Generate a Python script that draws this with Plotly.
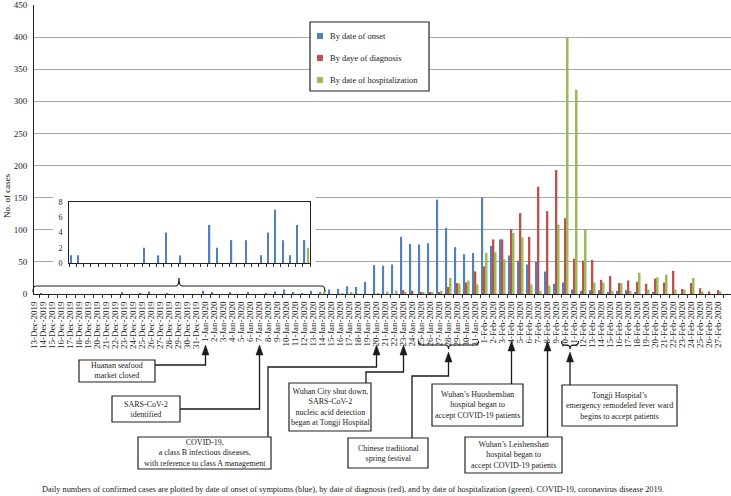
import plotly.graph_objects as go
import pandas as pd

# ---------------- data ----------------
dates = pd.date_range("2019-12-13", "2020-02-28")
date_labels = [f"{d.day}-{d.strftime('%b')}-{d.year}" for d in dates]

onset = [1, 1, 0, 0, 0, 0, 0, 0, 0, 0,
         2, 0, 1, 4, 0, 1, 0, 0, 0, 5,
         2, 0, 3, 0, 3, 0, 1, 4, 7, 3,
         1, 5, 3, 7, 8, 12, 11, 19, 45, 44,
         46, 89, 78, 77, 79, 147, 103, 73, 62, 64,
         150, 75, 85, 60, 52, 46, 50, 35, 16, 18,
         7, 5, 6, 6, 3, 5, 6, 2, 0, 2,
         0, 0, 0, 0, 0, 0, 0, 0]
diagnosis = [0] * 41 + [6, 5, 2, 2, 3, 11, 17, 18, 35,
                        43, 85, 85, 101, 126, 89, 167, 129, 193, 118,
                        55, 52, 53, 22, 28, 17, 21, 19, 16, 24,
                        18, 36, 8, 17, 9, 4, 6, 0]
hospitalization = [0] * 32 + [2, 0, 1, 2, 0, 0, 1, 4,
                              5, 2, 0, 2, 2, 5, 25, 16, 21, 15,
                              64, 65, 54, 95, 88, 15, 5, 13, 108, 400,
                              318, 101, 18, 18, 5, 17, 5, 33, 7, 26,
                              30, 7, 7, 25, 4, 0, 4, 0]
series_names = ["By date of onset", "By daye of diagnosis", "By date of hospitalization"]
colors = ["#4F81BD", "#C0504D", "#9BBB59"]
inset_n = 33  # 13-Dec-2019 .. 14-Jan-2020
y_ticks = list(range(0, 451, 50))
inset_ticks = [0, 2, 4, 6, 8]

FONT = "Liberation Serif, Times New Roman, serif"

# ---------------- geometry helpers (pixel -> paper) ----------------
W, H = 731, 496
L, T = 34, 5
PW, PH = 697, 289
BOT = T + PH  # 294


def px(x):
    return (x - L) / PW


def py(y):
    return (BOT - y) / PH


step = 9.0
xr0 = -(34.5 - L) / step
xr1 = xr0 + PW / step

fig = go.Figure()
all_series = [onset, diagnosis, hospitalization]
for name, vals, col in zip(series_names, all_series, colors):
    fig.add_bar(x=list(range(len(vals))), y=vals, name=name, marker_color=col,
                marker_line_width=0, showlegend=False, xaxis="x", yaxis="y")
for name, vals, col in zip(series_names, all_series, colors):
    fig.add_bar(x=list(range(inset_n)), y=vals[:inset_n], name=name, marker_color=col,
                marker_line_width=0, showlegend=False, xaxis="x2", yaxis="y2")

shapes = []
annotations = []

# white cover behind the inset (hides main gridlines)
shapes.append(dict(type="rect", xref="x", yref="y", layer="between",
                   x0=(53 - 34.5) / step, x1=(316 - 34.5) / step,
                   y0=(BOT - 277) * 450 / PH, y1=(BOT - 188) * 450 / PH,
                   fillcolor="white", line_width=0))

LINEC = "#1a1a1a"


def path_from(points, close=False):
    s = "M " + " L ".join(f"{px(x):.5f},{py(y):.5f}" for x, y in points)
    return s + (" Z" if close else "")


def hbrace(x0, x1, y_end, y_mid, y_tip, r=3):
    xm = (x0 + x1) / 2
    pts = [
        f"M {px(x0):.5f},{py(y_end):.5f}",
        f"Q {px(x0):.5f},{py(y_mid):.5f} {px(x0 + r):.5f},{py(y_mid):.5f}",
        f"L {px(xm - r):.5f},{py(y_mid):.5f}",
        f"Q {px(xm):.5f},{py(y_mid):.5f} {px(xm):.5f},{py(y_tip):.5f}",
        f"Q {px(xm):.5f},{py(y_mid):.5f} {px(xm + r):.5f},{py(y_mid):.5f}",
        f"L {px(x1 - r):.5f},{py(y_mid):.5f}",
        f"Q {px(x1):.5f},{py(y_mid):.5f} {px(x1):.5f},{py(y_end):.5f}",
    ]
    return dict(type="path", xref="paper", yref="paper", path=" ".join(pts),
                line=dict(color=LINEC, width=1.2))


def arrow(points, tip_y):
    x = points[-1][0]
    shapes.append(dict(type="path", xref="paper", yref="paper",
                       path=path_from(points + [(x, tip_y + 8)]),
                       line=dict(color=LINEC, width=1.3)))
    shapes.append(dict(type="path", xref="paper", yref="paper",
                       path=path_from([(x, tip_y), (x - 3.5, tip_y + 10), (x + 3.5, tip_y + 10)], close=True),
                       fillcolor=LINEC, line=dict(color=LINEC, width=0.5)))


def box(x0, y0, x1, y1, text):
    shapes.append(dict(type="rect", xref="paper", yref="paper",
                       x0=px(x0), x1=px(x1), y0=py(y1), y1=py(y0),
                       line=dict(color="#222222", width=1.2), fillcolor="white"))
    annotations.append(dict(xref="paper", yref="paper", x=px((x0 + x1) / 2), y=py((y0 + y1) / 2),
                            text=text, showarrow=False, xanchor="center", yanchor="middle",
                            align="center", font=dict(family=FONT, size=8, color="#222222")))


def cx(i):
    return 34.5 + step * i


# brace above inset range in main chart
shapes.append(hbrace(33, 325, 292, 286, 278))

# event boxes & arrows
box(79, 360, 155, 382, "Huanan seafood<br>market closed")
arrow([(155, 365), (cx(19), 365)], 345)

box(112, 396, 180, 422, "SARS-CoV-2<br>identified")
arrow([(180, 409), (cx(25), 409)], 345)

box(138, 437, 271, 469, "COVID-19,<br>a class B infectious diseases,<br>with reference to class A management")
arrow([(268, 437), (268, 367), (cx(38), 367)], 345)

box(289, 383, 371, 431, "Wuhan City shut down,<br>SARS-CoV-2<br>nucleic acid detection<br>began at Tongji Hospital")
arrow([(366, 383), (366, 372), (cx(41), 372)], 345)

shapes.append(hbrace(cx(43) - 3, cx(49) + 3, 341, 345, 349))
box(348, 438, 428, 468, "Chinese traditional<br>spring festival")
arrow([(412, 438), (412, 376), ((cx(43) + cx(49)) / 2, 376)], 352)

box(432, 384, 523, 426, "Wuhan\u2019s Huoshenshan<br>hospital began to<br>accept COVID-19 patients")
arrow([(cx(53), 384), (cx(53), 384)], 341)

box(465, 437, 562, 473, "Wuhan\u2019s Leishenshan<br>hospital began to<br>accept COVID-19 patients")
arrow([(cx(57), 437), (cx(57), 437)], 341)

shapes.append(hbrace(cx(59) - 4, cx(60) + 4, 341, 345, 349))
box(562, 385, 677, 426, "Tongji Hospital\u2019s<br>emergency remodeled fever ward<br>begins to accept patients")
arrow([((cx(59) + cx(60)) / 2, 385), ((cx(59) + cx(60)) / 2, 385)], 352)

# manual legend
shapes.append(dict(type="rect", xref="paper", yref="paper",
                   x0=px(310), x1=px(429), y0=py(91), y1=py(22),
                   line=dict(color="#222222", width=1.2), fillcolor="white"))
for k, (name, col) in enumerate(zip(series_names, colors)):
    yc = 36 + 22 * k
    shapes.append(dict(type="rect", xref="paper", yref="paper",
                       x0=px(317), x1=px(323), y0=py(yc + 3), y1=py(yc - 3),
                       line_width=0, fillcolor=col))
    annotations.append(dict(xref="paper", yref="paper", x=px(328), y=py(yc), text=name,
                            showarrow=False, xanchor="left", yanchor="middle",
                            font=dict(family=FONT, size=8.5, color="#222222")))

# axis title
annotations.append(dict(xref="paper", yref="paper", x=px(7), y=py(196), text="No. of cases",
                        textangle=-90, showarrow=False, xanchor="center", yanchor="middle",
                        font=dict(family=FONT, size=9, color="#222222")))

# caption
annotations.append(dict(xref="paper", yref="paper", x=px(40), y=py(489),
                        text="Daily numbers of confirmed cases are plotted by date of onset of symptoms (blue), "
                             "by date of diagnosis (red), and by date of hospitalization (green). "
                             "COVID-19, coronavirus disease 2019.",
                        showarrow=False, xanchor="left", yanchor="middle",
                        font=dict(family=FONT, size=8.3, color="#222222")))

fig.update_layout(
    width=W, height=H, autosize=False,
    margin=dict(l=L, r=W - L - PW, t=T, b=H - BOT, pad=0),
    paper_bgcolor="white", plot_bgcolor="white",
    barmode="group", bargap=0.27, bargroupgap=0.25,
    font=dict(family=FONT, color="#222222"),
    xaxis=dict(domain=[0, 1], range=[xr0, xr1], tickmode="array",
               tickvals=list(range(len(date_labels))), ticktext=date_labels,
               tickangle=-90, tickfont=dict(size=9, family=FONT, color="#222222"),
               ticks="outside", ticklen=3, tickcolor="rgba(0,0,0,0)",
               minor=dict(tickmode="linear", tick0=-0.5, dtick=1, ticks="outside",
                          ticklen=3, tickcolor="#333333", showgrid=False),
               showline=True, linecolor="#222222", linewidth=1,
               showgrid=False, zeroline=False, fixedrange=True),
    yaxis=dict(domain=[0, 1], range=[0, 450], tickmode="array", tickvals=y_ticks,
               tickfont=dict(size=9, family=FONT, color="#222222"),
               ticks="outside", ticklen=4, tickcolor="rgba(0,0,0,0)",
               showgrid=True, gridcolor="#a6a6a6", gridwidth=1,
               showline=True, linecolor="#222222", linewidth=1, zeroline=False),
    xaxis2=dict(domain=[px(69), px(310)], anchor="y2", range=[-0.5, inset_n - 0.5],
                showticklabels=False, tickmode="linear", tick0=-0.5, dtick=1,
                ticks="outside", ticklen=3, tickcolor="#333333",
                showline=True, mirror=True, linecolor="#222222", linewidth=1,
                showgrid=False, zeroline=False),
    yaxis2=dict(domain=[py(263), py(202)], anchor="x2", range=[0, 8],
                tickmode="array", tickvals=inset_ticks,
                tickfont=dict(size=8, family=FONT, color="#222222"),
                ticks="outside", ticklen=4, tickcolor="rgba(0,0,0,0)",
                showline=True, mirror=True, linecolor="#222222", linewidth=1,
                showgrid=False, zeroline=False),
    shapes=shapes,
    annotations=annotations,
)

fig.write_html("out.html", config={"displayModeBar": False})

# remove the default page margin so the figure sits at the window's top-left corner
with open("out.html", "r", encoding="utf-8") as f:
    html = f.read()
html = html.replace("<head>", "<head><style>html,body{margin:0;padding:0;overflow:hidden;}</style>", 1)
with open("out.html", "w", encoding="utf-8") as f:
    f.write(html)
